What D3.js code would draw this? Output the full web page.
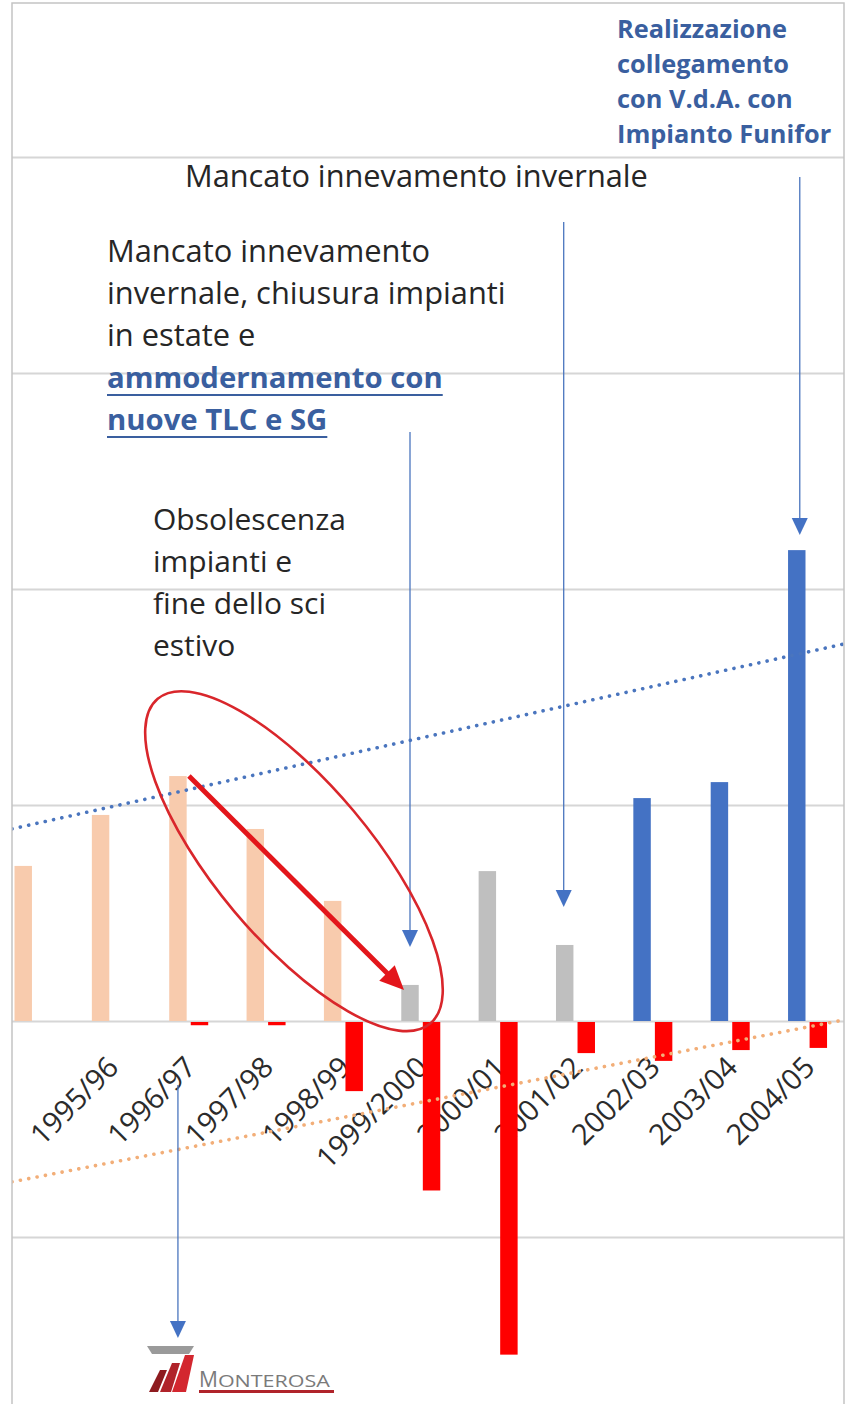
<!DOCTYPE html>
<html>
<head>
<meta charset="utf-8">
<script src="https://cdnjs.cloudflare.com/ajax/libs/d3/7.8.5/d3.min.js"></script>
<style>
  body { margin: 0; background: #fff; }
  svg { display: block; }
</style>
</head>
<body>
<div id="chart"></div>
<script>
// seasons (first one is cut off by the crop on the left)
const seasons = ["1994/95","1995/96","1996/97","1997/98","1998/99","1999/2000",
                 "2000/01","2001/02","2002/03","2003/04","2004/05"];
const tickLabels = ["","1995/96","1996/97","1997/98","1998/99","1999/2000",
                    "2000/01","2001/02","2002/03","2003/04","2004/05"];
// main series (one gridline = 100)
const visitors = [71.8, 95.4, 113.4, 88.9, 55.6, 16.7, 69.4, 35.2, 103.2, 110.6, 218];
// yearly change (red bars)
const change = [0, 0, -1.5, -1.5, -32, -78, -154, -14.4, -18, -13, -12];
const phase = ["old","old","old","old","old","crisis","crisis","crisis","funifor","funifor","funifor"];
// linear trend values at first and last season
const trendVisitors = [91.2, 170.8];
const trendChange = [-72.5, -2.8];
const gridValues = [-100, 0, 100, 200, 300, 400];

const W = 846, H = 1404;
const fLeft = 12, fRight = 844, fTop = 3;
const phaseColor = {old: "#F8CBAD", crisis: "#BFBFBF", funifor: "#4472C4"};
const font = "'Open Sans', 'Noto Sans', sans-serif";

const svg = d3.select("#chart").append("svg").attr("width", W).attr("height", H);

svg.append("clipPath").attr("id", "frame")
  .append("rect").attr("x", fLeft).attr("y", fTop).attr("width", fRight - fLeft).attr("height", H);

const x = d3.scaleBand().domain(seasons).range([-4.7, 846.2]);
const sub = d3.scaleBand().domain(["visitors", "change"]).range([19.2, 58.2]).paddingInner(0.19);
const y = d3.scaleLinear().domain([-200, 400]).range([1453, 157]);
const xc = s => x(s) + x.bandwidth() / 2;
const xv = s => x(s) + sub("visitors") + sub.bandwidth() / 2;

const g = svg.append("g").attr("clip-path", "url(#frame)");

// gridlines
const grid = g.append("g").attr("transform", `translate(${fLeft},0)`)
  .call(d3.axisLeft(y).tickValues(gridValues).tickSize(-(fRight - fLeft)).tickFormat(""));
grid.select(".domain").remove();
grid.selectAll("line").attr("stroke", "#d6d6d6").attr("stroke-width", 2);

// category labels
g.append("g").selectAll("text")
  .data(seasons)
  .join("text")
  .attr("transform", s => `translate(${xc(s) + 9},1069) rotate(-45)`)
  .attr("text-anchor", "end")
  .attr("font-family", font)
  .attr("font-size", 29)
  .attr("fill", "#2b2b2b")
  .text((s, i) => tickLabels[i]);

// bars
g.append("g").selectAll("rect")
  .data(seasons)
  .join("rect")
  .attr("x", s => x(s) + sub("visitors"))
  .attr("width", sub.bandwidth())
  .attr("y", (s, i) => y(visitors[i]))
  .attr("height", (s, i) => y(0) - y(visitors[i]))
  .attr("fill", (s, i) => phaseColor[phase[i]]);

g.append("g").selectAll("rect")
  .data(seasons.filter((s, i) => change[i] !== 0))
  .join("rect")
  .attr("x", s => x(s) + sub("change"))
  .attr("width", sub.bandwidth())
  .attr("y", y(0) + 1)
  .attr("height", s => y(change[seasons.indexOf(s)]) - y(0))
  .attr("fill", "#FF0000");

// trend lines, extended to the frame edges
function trend(vals, color) {
  const x0 = xc(seasons[0]), x1 = xc(seasons[seasons.length - 1]);
  const ty = d3.scaleLinear().domain([x0, x1]).range([y(vals[0]), y(vals[1])]);
  g.append("path")
    .attr("d", d3.line()([[fLeft, ty(fLeft)], [fRight, ty(fRight)]]))
    .attr("fill", "none")
    .attr("stroke", color)
    .attr("stroke-width", 3.6)
    .attr("stroke-linecap", "round")
    .attr("stroke-dasharray", "0.1 8.4");
}
trend(trendVisitors, "#4A75BE");
trend(trendChange, "#F2AE78");

// frame
svg.append("path")
  .attr("d", `M${fLeft},${H} V${fTop} H${fRight} V${H}`)
  .attr("fill", "none").attr("stroke", "#c4c4c4").attr("stroke-width", 1.5);

// text helper: fit a block's font so one line has a given width
function block(lines, x0, y0, lh, opt) {
  const t = svg.append("g").selectAll("text").data(lines).join("text")
    .attr("x", x0).attr("y", (d, i) => y0 + i * lh)
    .attr("font-family", font).attr("font-size", 20)
    .attr("font-weight", opt.bold ? 700 : 400)
    .attr("fill", opt.color)
    .text(d => d);
  const ref = t.filter((d, i) => i === opt.ref);
  const fs = 20 * opt.width / ref.node().getComputedTextLength();
  t.attr("font-size", fs);
  if (opt.underline) {
    t.each(function (d, i) {
      const w = this.getComputedTextLength();
      svg.append("line").attr("x1", x0).attr("x2", x0 + w)
        .attr("y1", y0 + i * lh + 7).attr("y2", y0 + i * lh + 7)
        .attr("stroke", opt.color).attr("stroke-width", 2.2);
    });
  }
  return t;
}

block(["Realizzazione", "collegamento", "con V.d.A. con", "Impianto Funifor"], 617, 38, 35,
  {bold: true, color: "#3A5F9F", ref: 0, width: 170});
block(["Mancato innevamento invernale"], 185, 187, 0, {color: "#262626", ref: 0, width: 463});
block(["Mancato innevamento", "invernale, chiusura impianti", "in estate e"], 107, 262, 42,
  {color: "#262626", ref: 0, width: 323});
block(["ammodernamento con", "nuove TLC e SG"], 107, 388, 42,
  {bold: true, color: "#3A5F9F", ref: 0, width: 336, underline: true});
block(["Obsolescenza", "impianti e", "fine dello sci", "estivo"], 153, 530, 42,
  {color: "#262626", ref: 0, width: 193});

// blue annotation arrows
function arrow(ax, y0, tip) {
  svg.append("line").attr("x1", ax).attr("x2", ax).attr("y1", y0).attr("y2", tip - 10)
    .attr("stroke", "#4A75BE").attr("stroke-width", 1.3);
  svg.append("path")
    .attr("d", `M${ax},${tip} L${ax - 8},${tip - 17} L${ax + 8},${tip - 17} Z`)
    .attr("fill", "#4472C4");
}
const vi = s => visitors[seasons.indexOf(s)];
arrow(xv("2004/05") + 3, 177, y(vi("2004/05")) - 15);
arrow(xv("2001/02") - 1, 222, y(vi("2001/02")) - 38);
arrow(xv("1999/2000"), 432, y(vi("1999/2000")) - 38);
arrow(xv("1996/97"), 1085, 1338);

// red ellipse and arrow
const ex0 = xv("1996/97"), ex1 = xv("1999/2000");
svg.append("ellipse")
  .attr("transform", `translate(${(ex0 + ex1) / 2},${y(74)}) rotate(50)`)
  .attr("rx", 212).attr("ry", 78)
  .attr("fill", "none").attr("stroke", "#D9262B").attr("stroke-width", 2.6);

const a0 = [ex0 + 11, y(vi("1996/97"))], a1 = [ex1 - 6, y(vi("1999/2000")) + 5];
const ang = Math.atan2(a1[1] - a0[1], a1[0] - a0[0]);
const back = (d, s) => [a1[0] - d * Math.cos(ang) + s * Math.sin(ang), a1[1] - d * Math.sin(ang) - s * Math.cos(ang)];
svg.append("line")
  .attr("x1", a0[0]).attr("y1", a0[1])
  .attr("x2", back(18, 0)[0]).attr("y2", back(18, 0)[1])
  .attr("stroke", "#E3161B").attr("stroke-width", 5);
svg.append("path")
  .attr("d", d3.line()([a1, back(24, 11), back(24, -11)]) + "Z")
  .attr("fill", "#E3161B");

// logo
const logo = svg.append("g").attr("transform", "translate(147,1346)");
logo.append("path").attr("d", "M0,0 H47 L42,8 H5 Z").attr("fill", "#9a9a9a");
logo.append("path").attr("d", "M2,46 L13,24 H20 L11,46 Z").attr("fill", "#8E1B1F");
logo.append("path").attr("d", "M13,46 L25,17 H33 L24,46 Z").attr("fill", "#B0232A");
logo.append("path").attr("d", "M25,46 L38,9 H47 L39,46 Z").attr("fill", "#D3272F");
const lt = logo.append("text").attr("x", 52).attr("y", 41)
  .attr("font-family", font).attr("fill", "#7a7a7a");
lt.append("tspan").attr("font-size", 21).text("M");
lt.append("tspan").attr("font-size", 16).attr("textLength", 112).attr("lengthAdjust", "spacingAndGlyphs").text("ONTEROSA");
logo.append("rect").attr("x", 52).attr("y", 44).attr("width", 135).attr("height", 3).attr("fill", "#B0232A");
</script>
</body>
</html>
